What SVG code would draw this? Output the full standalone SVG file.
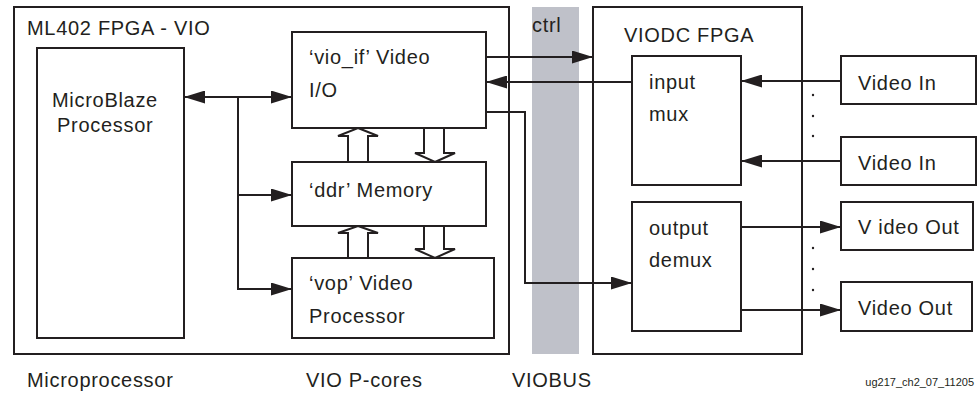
<svg xmlns="http://www.w3.org/2000/svg" width="977" height="393" viewBox="0 0 977 393">
<defs>
<style>
.box{fill:none;stroke:#231f20;stroke-width:2}
.ln{fill:none;stroke:#231f20;stroke-width:2}
.hol{fill:#fff;stroke:#231f20;stroke-width:2;stroke-linejoin:miter}
.t{font-family:"Liberation Sans",Arial,sans-serif;font-size:20px;letter-spacing:0.7px;fill:#231f20}
.s{font-family:"Liberation Sans",Arial,sans-serif;font-size:11px;fill:#231f20}
.dot{fill:#231f20}
</style>
<marker id="ah" markerUnits="userSpaceOnUse" markerWidth="21" markerHeight="13" refX="21" refY="6.5" orient="auto-start-reverse" viewBox="0 0 21 13">
<path d="M0,0 L21,6.5 L0,13 z" fill="#231f20"/>
</marker>
</defs>
<rect width="977" height="393" fill="#fff"/>
<rect id="viobus-bar" x="532" y="7" width="47" height="347" fill="#bfc1c9"/>

<g id="ml402">
<rect class="box" x="14" y="7" width="495" height="347"/>
<text class="t" x="27" y="35">ML402 FPGA - VIO</text>
</g>
<g id="microblaze">
<rect class="box" x="37" y="48" width="147" height="290"/>
<text class="t" x="52" y="107">MicroBlaze</text>
<text class="t" x="57" y="132">Processor</text>
</g>
<g id="vio_if">
<rect class="box" x="292" y="32" width="194" height="96"/>
<text class="t" x="309" y="64">‘vio_if’ Video</text>
<text class="t" x="309" y="97">I/O</text>
</g>
<g id="ddr">
<rect class="box" x="292" y="162" width="194" height="64"/>
<text class="t" x="309" y="197">‘ddr’ Memory</text>
</g>
<g id="vop">
<rect class="box" x="292" y="258" width="202" height="80"/>
<text class="t" x="309" y="290">‘vop’ Video</text>
<text class="t" x="309" y="323">Processor</text>
</g>
<g id="viodc">
<rect class="box" x="593" y="7" width="209" height="347"/>
<text class="t" x="624" y="42">VIODC FPGA</text>
</g>
<g id="input-mux">
<rect class="box" x="632" y="56" width="109" height="129"/>
<text class="t" x="649" y="89">input</text>
<text class="t" x="649" y="121">mux</text>
</g>
<g id="output-demux">
<rect class="box" x="632" y="202" width="109" height="129"/>
<text class="t" x="649" y="235">output</text>
<text class="t" x="649" y="267">demux</text>
</g>
<g id="video-in-1">
<rect class="box" x="841" y="56" width="135" height="48"/>
<text class="t" x="858" y="90">Video In</text>
</g>
<g id="video-in-2">
<rect class="box" x="841" y="137" width="135" height="48"/>
<text class="t" x="858" y="170">Video In</text>
</g>
<g id="video-out-1">
<rect class="box" x="841" y="202" width="132" height="48"/>
<text class="t" x="858" y="234">V ideo Out</text>
</g>
<g id="video-out-2">
<rect class="box" x="841" y="282" width="131" height="49"/>
<text class="t" x="858" y="315">Video Out</text>
</g>

<g id="connectors">
<line class="ln" x1="184" y1="97" x2="292" y2="97" marker-start="url(#ah)" marker-end="url(#ah)"/>
<polyline class="ln" points="238,97 238,289"/>
<line class="ln" x1="237" y1="195" x2="292" y2="195" marker-end="url(#ah)"/>
<line class="ln" x1="237" y1="289" x2="292" y2="289" marker-end="url(#ah)"/>
<polygon class="hol" points="358,128 378,136 368,136 368,162 348,162 348,136 338,136"/>
<polygon class="hol" points="435,162 455,153 444,153 444,128 424,128 424,153 415,153"/>
<polygon class="hol" points="358,226 378,233 368,233 368,258 348,258 348,233 338,233"/>
<polygon class="hol" points="435,258 455,249 444,249 444,226 424,226 424,249 415,249"/>
<line class="ln" x1="486" y1="57" x2="593" y2="57" marker-end="url(#ah)"/>
<line class="ln" x1="632" y1="82" x2="486" y2="82" marker-end="url(#ah)"/>
<polyline class="ln" points="486,112 525,112 525,283 632,283" marker-end="url(#ah)"/>
<line class="ln" x1="841" y1="81" x2="741" y2="81" marker-end="url(#ah)"/>
<line class="ln" x1="841" y1="161" x2="741" y2="161" marker-end="url(#ah)"/>
<line class="ln" x1="741" y1="227" x2="841" y2="227" marker-end="url(#ah)"/>
<line class="ln" x1="741" y1="310" x2="841" y2="310" marker-end="url(#ah)"/>
</g>

<g id="dots">
<circle class="dot" cx="813" cy="95" r="1.2"/>
<circle class="dot" cx="813" cy="116" r="1.2"/>
<circle class="dot" cx="813" cy="136" r="1.2"/>
<circle class="dot" cx="813" cy="248" r="1.2"/>
<circle class="dot" cx="813" cy="269" r="1.2"/>
<circle class="dot" cx="813" cy="290" r="1.2"/>
</g>

<g id="labels">
<text class="t" x="532" y="32">ctrl</text>
<text class="t" x="27" y="387">Microprocessor</text>
<text class="t" x="306" y="387">VIO P-cores</text>
<text class="t" x="512" y="387">VIOBUS</text>
<text class="s" x="974" y="386" text-anchor="end">ug217_ch2_07_11205</text>
</g>
</svg>
